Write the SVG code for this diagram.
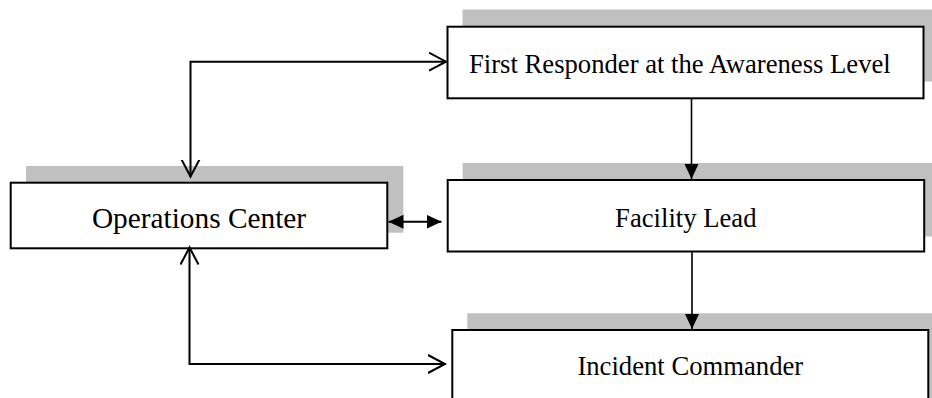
<svg xmlns="http://www.w3.org/2000/svg" width="932" height="398" viewBox="0 0 932 398">
<style>
.shadow{fill:#c0c0c0;stroke:none}
.box{fill:#ffffff;stroke:#000000;stroke-width:2}
.lbl{font-family:"Liberation Serif","Times New Roman",serif;font-size:26.67px;fill:#000000}
.big{font-size:29.33px}
.conn{fill:none;stroke:#000000;stroke-width:2}
.thin{stroke-width:1.6}
</style>
<defs>
<marker id="tri" markerUnits="userSpaceOnUse" markerWidth="16" markerHeight="15" refX="15" refY="7" orient="auto-start-reverse">
<path d="M0,0 L15,7 L0,14 z" fill="#000000"/>
</marker>
<marker id="chev" markerUnits="userSpaceOnUse" markerWidth="20" markerHeight="22" refX="17" refY="10" orient="auto-start-reverse">
<path d="M0,1 L17,10 L0,19" fill="none" stroke="#000000" stroke-width="2"/>
</marker>
</defs>
<g id="node-first-responder">
<rect class="shadow" x="462.5" y="9.5" width="476" height="72"/>
<rect class="box" x="447.5" y="26.7" width="476" height="71.6"/>
<text class="lbl" x="469" y="73">First Responder at the Awareness Level</text>
</g>
<g id="node-facility-lead">
<rect class="shadow" x="462.7" y="163" width="476" height="73.5"/>
<rect class="box" x="447.7" y="180" width="476.5" height="71.5"/>
<text class="lbl" x="685.8" y="227.3" text-anchor="middle">Facility Lead</text>
</g>
<g id="node-operations-center">
<rect class="shadow" x="26" y="166" width="377.3" height="66.7"/>
<rect class="box" x="10.7" y="182.7" width="376.6" height="65.6"/>
<text class="lbl big" x="199" y="228.3" text-anchor="middle">Operations Center</text>
</g>
<g id="node-incident-commander">
<rect class="shadow" x="467.3" y="313.3" width="476" height="90"/>
<rect class="box" x="452.3" y="330" width="476" height="75"/>
<text class="lbl" x="690.3" y="375" text-anchor="middle">Incident Commander</text>
</g>
<g id="connectors">
<path class="conn thin" d="M691.5,98.3 V179" marker-end="url(#tri)"/>
<path class="conn thin" d="M692,251.5 V329" marker-end="url(#tri)"/>
<path class="conn" d="M388.5,221.7 H441.5" marker-start="url(#tri)" marker-end="url(#tri)"/>
<path class="conn" d="M190.5,176.5 V61.7 H446" marker-start="url(#chev)" marker-end="url(#chev)"/>
<path class="conn" d="M189.5,247.5 V364 H445" marker-start="url(#chev)" marker-end="url(#chev)"/>
</g>
</svg>
